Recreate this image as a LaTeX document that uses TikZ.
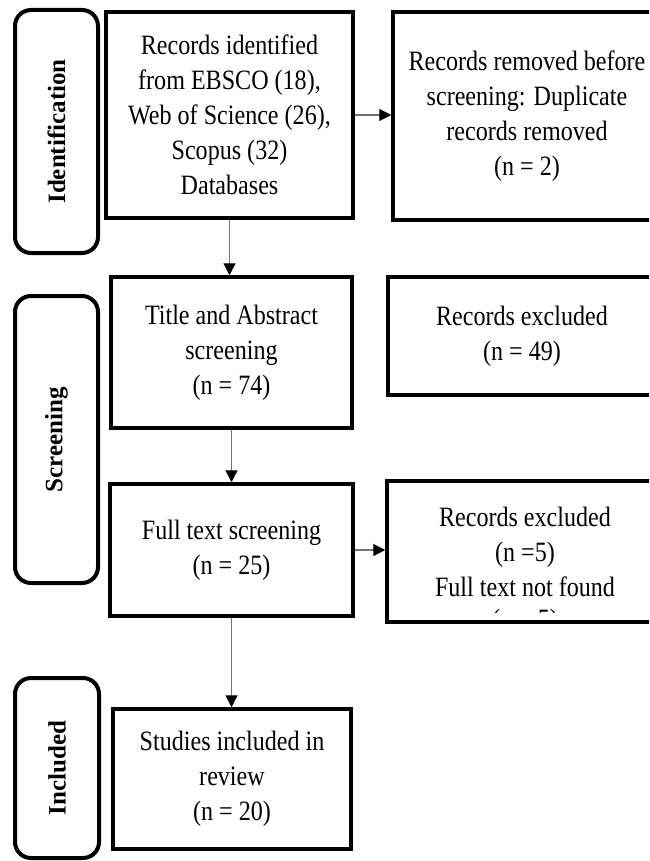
\documentclass[tikz,border=0pt]{standalone}
\usepackage{fontspec}
\setmainfont{Liberation Serif}
\newfontfamily\boxfont{Liberation Serif}[FakeStretch=0.86]
\usetikzlibrary{arrows.meta}

\tikzset{
  flowbox/.style={draw=black, line width=3.5pt, align=center, inner sep=0pt,
    font=\boxfont\fontsize{28}{35}\selectfont},
  phase/.style={draw=black, line width=4pt, rounded corners=16pt, inner sep=0pt,
    rotate=90, font=\bfseries\fontsize{25}{30}\selectfont},
  flow/.style={draw=black!55, line width=1.2pt,
    -{Triangle[length=12pt,width=12pt,color=black]}},
}

\begin{document}
\begin{tikzpicture}[x=1pt,y=-1pt]
  \clip (0,0) rectangle (649,861);
  \fill[white] (0,0) rectangle (649,861);

  % phase labels on the left
  \node[phase, minimum width=243pt, minimum height=83pt] (phaseid) at (56.5,131.5) {Identification};
  \node[phase, minimum width=287pt, minimum height=83pt] (phasescr) at (56.5,439.5) {Screening};
  \node[phase, minimum width=180pt, minimum height=84pt] (phaseinc) at (57,768) {Included};

  % main column
  \node[flowbox, minimum width=247pt, minimum height=206pt] (ident) at (229.5,115)
    {Records identified\\from EBSCO (18),\\Web of Science (26),\\Scopus (32)\\Databases};
  \node[flowbox, minimum width=241pt, minimum height=151pt] (title) at (231.5,352.5)
    {Title and Abstract\\screening\\(n = 74)};
  \node[flowbox, minimum width=243pt, minimum height=132pt] (full) at (231.5,550)
    {Full text screening\\(n = 25)};
  \node[flowbox, minimum width=238pt, minimum height=140pt] (incl) at (232,779)
    {Studies included in\\review\\(n = 20)};

  % side column
  \node[flowbox, minimum width=268pt, minimum height=208pt] (removed) at (527,116)
    {Records removed before\\screening: Duplicate\\records removed\\(n = 2)};
  \node[flowbox, minimum width=268pt, minimum height=118pt] (excla) at (522,336)
    {Records excluded\\(n = 49)};
  \node[flowbox, minimum width=276pt, minimum height=141pt] (exclb) at (525,551.5)
    {Records excluded\\(n =5)\\Full text not found};

  % last line of the exclusion box, cut off by the box frame
  \begin{scope}
    \clip (388,595) rectangle (649,612);
    \node[anchor=base, inner sep=0pt, font=\boxfont\fontsize{28}{35}\selectfont] (exclbmore) at (525,628) {(n = 5)};
  \end{scope}

  % connectors
  \draw[flow] (ident.east) -- (ident.east -| removed.west);
  \draw[flow] (ident.south) -- (ident.south |- title.north);
  \draw[flow] (title.south) -- (full.north);
  \draw[flow] (full.east) -- (full.east -| exclb.west);
  \draw[flow] (full.south) -- (full.south |- incl.north);
\end{tikzpicture}
\end{document}
